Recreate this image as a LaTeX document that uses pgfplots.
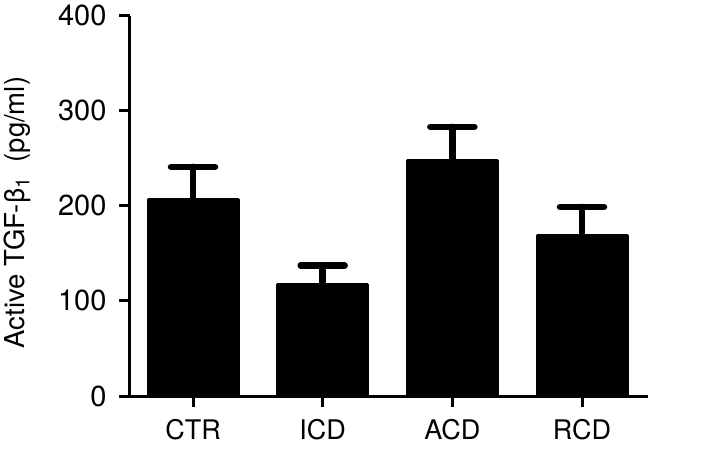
\documentclass[border=0pt]{standalone}
\usepackage{fontspec}
\setmainfont{TeX Gyre Heros}
\usepackage{pgfplots}
\pgfplotsset{compat=1.18}
\begin{document}
\begin{tikzpicture}
\begin{axis}[
  at={(130pt,52pt)}, anchor=south west,
  scale only axis, width=518pt, height=380.3pt,
  xmin=-0.486, xmax=3.509, ymin=0, ymax=400,
  clip=false,
  axis x line=bottom, axis y line=left,
  axis line style={line width=3pt, -},
  xtick={0,1,2,3}, xticklabels={CTR,ICD,ACD,RCD},
  ytick={0,100,200,300,400},
  tick align=outside, major tick length=11pt,
  tick style={line width=3pt, black},
  /pgf/number format/assume math mode=true,
  yticklabel style={font=\fontsize{29}{32}\selectfont, xshift=-9pt},
  xticklabel style={font=\fontsize{27}{30}\selectfont, yshift=-9pt},
  label style={font=\fontsize{27.5}{30}\selectfont},
  ylabel={Active TGF-β\textsubscript{1}\ \ (pg/ml)},
  ylabel style={at={(axis description cs:-0.218,0.4825)}, anchor=center},
]
\addplot[ybar, bar width=90pt, fill=black, draw=black, line width=3pt, line join=round,
  error bars/.cd, y dir=plus, y explicit,
  error bar style={line width=6.5pt, line cap=round, black},
  error mark options={rotate=90, line width=6.5pt, line cap=round, mark size=22pt, black}]
  coordinates {(0,206.3) +- (0,34.7) (1,116.9) +- (0,20.3) (2,247.3) +- (0,35.8) (3,168.5) +- (0,30.4)};
\end{axis}
\pgfresetboundingbox
\useasboundingbox (0,0) rectangle (709pt,448pt);
\end{tikzpicture}
\end{document}
